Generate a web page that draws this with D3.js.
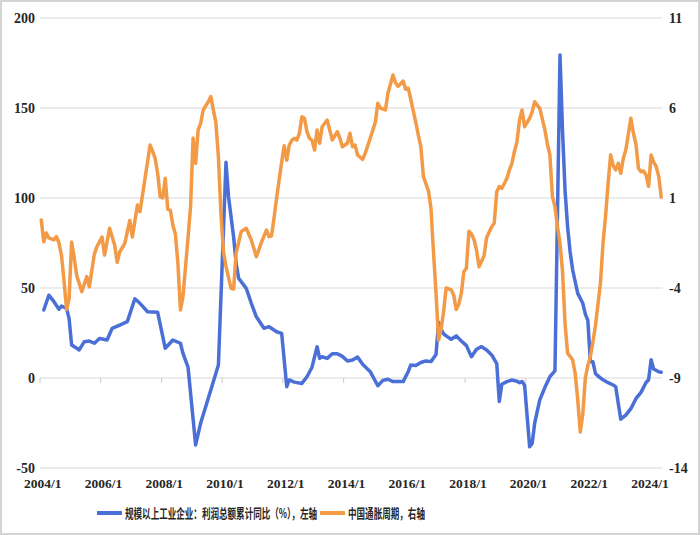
<!DOCTYPE html>
<html><head><meta charset="utf-8">
<script src="https://cdn.jsdelivr.net/npm/d3@7"></script>
<style>html,body{margin:0;padding:0;background:#fff;}svg{display:block;}</style>
</head><body>
<svg id="chart" width="700" height="535"></svg>
<script>
// ---- data ----
const xTickLabels = ["2004/1","2006/1","2008/1","2010/1","2012/1","2014/1","2016/1","2018/1","2020/1","2022/1","2024/1"];
const leftTicks = [-50, 0, 50, 100, 150, 200];
const rightTicks = [-14, -9, -4, 1, 6, 11];
const seriesNames = ["规模以上工业企业：利润总额累计同比（%），左轴", "中国通胀周期，右轴"];

const profitDates = ["2004/2","2004/4","2004/6","2004/8","2004/9","2004/11","2004/12","2005/1","2005/3","2005/4","2005/6","2005/8","2005/10","2005/12",
"2006/2","2006/3","2006/5","2006/8","2006/11","2007/2","2007/4","2007/7","2007/11","2008/2","2008/5","2008/8","2008/9","2008/11",
"2009/2","2009/4","2009/7","2009/11","2010/2","2010/3","2010/5","2010/6","2010/7","2010/10","2010/12","2011/2","2011/5","2011/7","2011/10","2011/12",
"2012/2","2012/3","2012/5","2012/8","2012/10","2012/12","2013/2","2013/3","2013/4","2013/6","2013/8","2013/10","2013/12",
"2014/2","2014/4","2014/6","2014/8","2014/11","2015/2","2015/4","2015/6","2015/8","2015/12","2016/2","2016/3","2016/5","2016/7","2016/9","2016/11",
"2017/1","2017/2","2017/3","2017/4","2017/5","2017/7","2017/9","2017/11","2018/1","2018/3","2018/5","2018/7","2018/9","2018/11",
"2019/1","2019/2","2019/3","2019/5","2019/7","2019/9","2019/10","2019/11","2019/12","2020/2","2020/3","2020/4","2020/6","2020/8","2020/10","2020/12",
"2021/2","2021/3","2021/4","2021/5","2021/6","2021/7","2021/9","2021/11","2021/12","2022/1","2022/2","2022/3","2022/4","2022/5","2022/7","2022/9","2022/11","2022/12",
"2023/2","2023/4","2023/6","2023/8","2023/10","2023/12","2024/1","2024/2","2024/3","2024/5","2024/6"];
const profitValues = [37.8,46,42.4,38.2,40,38.7,33,18.3,16.5,15.6,20.2,20.5,19.3,21.9,
21.4,21.1,27.6,29.4,31.3,44,41.5,36.8,36.5,16.5,21.1,19.3,13.7,6,
-37.2,-25,-11.3,7.2,119.8,100.7,78.5,63.7,55.4,49.8,41.5,34,27.6,28.5,25.7,24.8,
-4.8,-1.1,-2.3,-3,0.7,6,17.4,10.9,11.8,10.9,13.5,13.5,12,
9.4,10,11.6,7.6,3.5,-4.3,-1.3,-0.7,-2,-2,3.5,7.2,7,8.6,9.5,9.1,
13,31,27,24.5,23.4,21.5,23.4,20.6,18,11.8,16,17.4,15.6,12.8,
8,-13,-3.5,-2,-1.1,-1.8,-2.6,-2,-4,-38.2,-36.3,-25,-12.2,-5.3,0.7,4,
179.4,137,104,84,70,60,47,41.5,35.5,32,9,9,2.5,1.1,-1,-2.6,-3.9,-4.8,
-22.9,-20.6,-17,-11.5,-8,-2.5,-1,10.2,5,3.5,3.2];

const inflationDates = ["2004/1","2004/2","2004/3","2004/4","2004/6","2004/7","2004/8","2004/9","2004/10","2004/11","2004/12",
"2005/1","2005/2","2005/3","2005/5","2005/7","2005/8","2005/10","2005/11",
"2006/1","2006/2","2006/4","2006/6","2006/7","2006/8","2006/10","2006/12",
"2007/1","2007/3","2007/4","2007/5","2007/8","2007/9","2007/10","2007/11","2007/12",
"2008/1","2008/2","2008/3","2008/4","2008/5","2008/6","2008/7","2008/8","2008/9","2008/11","2008/12",
"2009/1","2009/2","2009/3","2009/4","2009/5","2009/7","2009/8","2009/9","2009/10","2009/11","2009/12",
"2010/1","2010/2","2010/4","2010/5","2010/6","2010/8","2010/10","2010/12",
"2011/2","2011/4","2011/6","2011/7","2011/8","2011/9","2011/10","2011/11","2011/12",
"2012/1","2012/2","2012/3","2012/4","2012/5","2012/6","2012/7","2012/8","2012/9","2012/10","2012/11","2012/12",
"2013/1","2013/2","2013/3","2013/4","2013/6","2013/8","2013/10","2013/11","2013/12",
"2014/2","2014/3","2014/4","2014/5","2014/6","2014/8","2014/9","2014/11",
"2015/1","2015/2","2015/3","2015/5","2015/6","2015/8","2015/9","2015/10","2015/12",
"2016/1","2016/2","2016/3","2016/5","2016/6","2016/7","2016/8","2016/9","2016/10","2016/11","2016/12",
"2017/1","2017/2","2017/3","2017/4","2017/5","2017/7","2017/8","2017/9","2017/10","2017/11","2017/12",
"2018/1","2018/2","2018/3","2018/4","2018/5","2018/6","2018/8","2018/9","2018/11","2018/12",
"2019/1","2019/2","2019/3","2019/4","2019/5","2019/6","2019/7","2019/8","2019/9","2019/10","2019/11","2019/12",
"2020/2","2020/3","2020/4","2020/6","2020/7","2020/8","2020/9","2020/10","2020/11","2020/12",
"2021/1","2021/2","2021/3","2021/4","2021/5","2021/6","2021/7","2021/8","2021/9","2021/10","2021/11","2021/12",
"2022/1","2022/2","2022/3","2022/4","2022/6","2022/7","2022/8","2022/9","2022/10","2022/11","2022/12",
"2023/1","2023/2","2023/3","2023/4","2023/6","2023/7","2023/8","2023/9","2023/10","2023/11","2023/12",
"2024/1","2024/2","2024/3","2024/4","2024/5","2024/6"];
const inflationValues = [-0.22,-1.43,-0.94,-1.22,-1.33,-1.15,-1.5,-2.2,-3.6,-5.2,-4.6,
-1.45,-2.3,-3.3,-4.2,-3.37,-3.93,-2.1,-1.7,
-1.17,-2.17,-0.68,-1.61,-2.57,-2.0,-1.52,-0.25,
-1.17,0.61,0.24,1.15,3.94,3.6,3.2,2.37,1.07,
1.0,2.09,0.37,0.33,-0.5,-1.0,-2.63,-5.22,-4.48,-1.2,0.52,
4.33,2.93,4.78,5.15,5.89,6.35,6.63,5.9,5.2,3.29,0.15,
-2.0,-2.8,-4.02,-4.06,-2.07,-0.87,-0.68,-1.33,
-2.26,-1.47,-0.78,-1.15,-1.1,-0.1,1.0,2.0,3.0,
3.9,3.1,3.94,4.2,4.32,4.22,4.59,5.52,5.43,4.68,4.32,4.2,
3.67,4.78,4.04,4.96,5.33,4.22,4.68,4.32,3.85,
4.04,4.6,3.85,3.94,3.39,3.15,3.48,4.32,
5.2,6.26,6.0,5.89,6.82,7.83,7.4,7.2,7.5,
7.04,7.1,6.5,5.2,4.5,3.85,2.2,1.8,1.4,0.43,-2.0,
-4.3,-6.9,-6.3,-5.3,-4.0,-4.1,-4.4,-5.2,-4.9,-4.3,-3.1,
-2.9,-0.85,-1.0,-1.3,-1.89,-2.82,-2.2,-1.2,-0.6,-0.4,
1.35,1.63,1.54,1.8,2.09,2.56,2.93,3.6,4.13,5.33,5.89,4.96,
5.43,5.79,6.35,5.98,5.4,4.8,4.0,3.4,1.07,0.52,
-0.6,-1.5,-3.1,-6.0,-7.63,-7.8,-8.0,-8.75,-10.2,-12.0,-11.0,-9.0,
-8.3,-7.8,-7.0,-6.1,-3.7,-1.5,0.0,1.8,3.4,2.8,2.56,
2.93,2.37,3.2,3.67,5.43,4.6,4.0,2.65,2.46,2.5,2.28,
1.65,3.39,3.0,2.74,2.2,1.05];

// ---- helpers ----
const monthIndex = s => { const [yy, mm] = s.split("/").map(Number); return (yy - 2004) * 12 + (mm - 1); };
const n1 = Math.min(profitDates.length, profitValues.length);
const n2 = Math.min(inflationDates.length, inflationValues.length);
const profit = profitDates.slice(0, n1).map((d, i) => ({ m: monthIndex(d), v: profitValues[i] }));
const inflation = inflationDates.slice(0, n2).map((d, i) => ({ m: monthIndex(d), v: inflationValues[i] }));

const svg = d3.select("#chart");
const plotL = 40, plotR = 662.5, plotT = 18, plotB = 468;

const x = d3.scaleLinear().domain([-0.5, 245.5]).range([plotL, plotR]);
const yL = d3.scaleLinear().domain([-50, 200]).range([plotB, plotT]);
const yR = d3.scaleLinear().domain([-14, 11]).range([plotB, plotT]);

// frame
svg.append("rect").attr("x", 1).attr("y", 1).attr("width", 698).attr("height", 533)
  .attr("fill", "#fff").attr("stroke", "#d4d4d4").attr("stroke-width", 2);

// gridlines
svg.append("g").selectAll("line").data(leftTicks).join("line")
  .attr("x1", plotL).attr("x2", plotR)
  .attr("y1", d => yL(d)).attr("y2", d => yL(d))
  .attr("stroke", "#d9d9d9").attr("stroke-width", 1.2);

// x tick marks on the zero line (category boundaries)
const tickBounds = d3.range(0, 11).map(k => k * 24 - 0.5);
svg.append("g").selectAll("line").data(tickBounds).join("line")
  .attr("x1", d => x(d)).attr("x2", d => x(d))
  .attr("y1", yL(0)).attr("y2", yL(0) + 5)
  .attr("stroke", "#c8c8c8").attr("stroke-width", 1);

const numFont = "'Liberation Serif','Times New Roman',serif";

// left axis labels
svg.append("g").selectAll("text").data(leftTicks).join("text")
  .attr("x", 35).attr("y", d => yL(d) + 5)
  .attr("text-anchor", "end")
  .attr("font-family", numFont).attr("font-size", 14).attr("font-weight", "bold").attr("fill", "#262626")
  .text(d => d);

// right axis labels
svg.append("g").selectAll("text").data(rightTicks).join("text")
  .attr("x", 669).attr("y", d => yR(d) + 5)
  .attr("text-anchor", "start")
  .attr("font-family", numFont).attr("font-size", 14).attr("font-weight", "bold").attr("fill", "#262626")
  .text(d => d);

// x labels
svg.append("g").selectAll("text").data(xTickLabels).join("text")
  .attr("x", d => x(monthIndex(d)) + 1.5).attr("y", 488)
  .attr("text-anchor", "middle")
  .attr("font-family", numFont).attr("font-size", 13.5).attr("font-weight", "bold").attr("fill", "#262626")
  .text(d => d);

// lines
const blue = "#4a6fd6", orange = "#f29a45";
const lineL = d3.line().x(d => x(d.m)).y(d => yL(d.v));
const lineR = d3.line().x(d => x(d.m)).y(d => yR(d.v));

svg.append("path").datum(profit).attr("d", lineL)
  .attr("fill", "none").attr("stroke", blue).attr("stroke-width", 3.5)
  .attr("stroke-linejoin", "round").attr("stroke-linecap", "round");
svg.append("path").datum(inflation).attr("d", lineR)
  .attr("fill", "none").attr("stroke", orange).attr("stroke-width", 3.5)
  .attr("stroke-linejoin", "round").attr("stroke-linecap", "round");

// legend (text horizontally condensed like the reference, via transform)
const legend = [
  { name: seriesNames[0], color: blue, x0: 97, tx: 125, tw: 192 },
  { name: seriesNames[1], color: orange, x0: 320, tx: 348, tw: 77 }
];
const lg = svg.append("g");
lg.selectAll("line").data(legend).join("line")
  .attr("x1", d => d.x0).attr("x2", d => d.x0 + 25)
  .attr("y1", 513).attr("y2", 513)
  .attr("stroke", d => d.color).attr("stroke-width", 4);
legend.forEach(d => {
  const g = lg.append("g");
  const t = g.append("text")
    .attr("x", 0).attr("y", 0)
    .attr("font-family", "'Noto Sans CJK SC', sans-serif").attr("font-size", 13).attr("font-weight", "bold")
    .attr("fill", "#262626")
    .text(d.name);
  const w = t.node().getComputedTextLength() || d.tw;
  g.attr("transform", `translate(${d.tx},518) scale(${d.tw / w},1)`);
});
</script>
</body></html>
